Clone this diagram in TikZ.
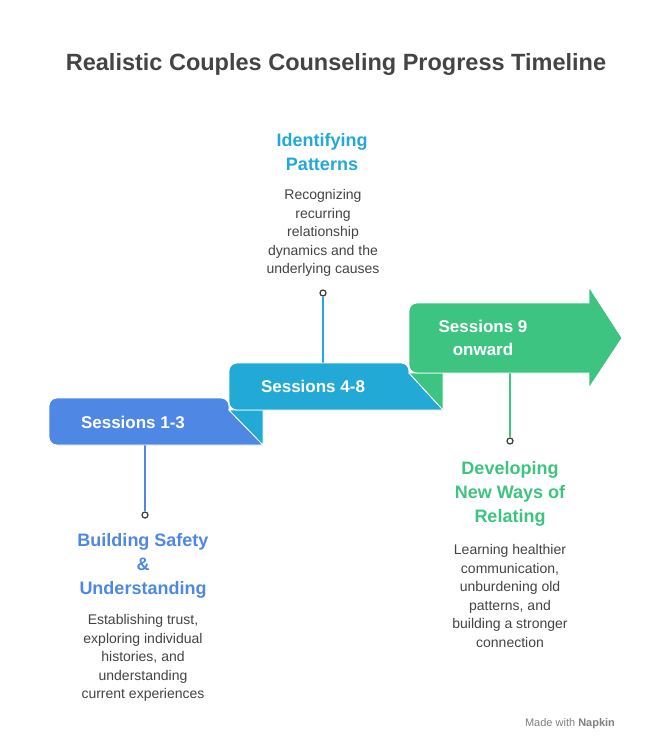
\documentclass[tikz,border=0pt]{standalone}
\usepackage{fontspec}
\setmainfont{Liberation Sans}
\definecolor{cblue}{HTML}{4E88E4}
\definecolor{cteal}{HTML}{22A9D6}
\definecolor{cgreen}{HTML}{3DC481}
\definecolor{ctext}{HTML}{444444}
\begin{document}
\begin{tikzpicture}[x=1pt,y=-1pt,
  hdr/.style={font=\fontsize{18}{24}\selectfont\bfseries,align=center},
  desc/.style={font=\fontsize{14}{18.5}\selectfont,text=ctext,align=center},
  lbl/.style={font=\fontsize{17}{23}\selectfont\bfseries,text=white,align=center},
  conn/.style={line width=1.3pt},
  dot/.style={circle,draw=ctext,line width=1.3pt,fill=white,inner sep=0pt,minimum size=6pt}]
\useasboundingbox (0,0) rectangle (648,752);
\fill[white] (0,0) rectangle (648,752);
\node[font=\fontsize{23.5}{27}\selectfont\bfseries,text=ctext] (title) at (336,64) {Realistic Couples Counseling Progress Timeline};
% connectors
\coordinate (b0) at (145,445); \node[dot] (b1) at (145,515) {};
\coordinate (t0) at (323,363); \node[dot] (t1) at (323,293) {};
\coordinate (g0) at (510,373); \node[dot] (g1) at (510,441) {};
\draw[conn,cblue] (b0) -- (b1);
\draw[conn,cteal] (t0) -- (t1);
\draw[conn,cgreen] (g0) -- (g1);
% shapes
\fill[cblue,draw=white,line width=0.8pt,rounded corners=8pt] (229,445) -- (49,445) -- (49,398) -- (229,398) [sharp corners] -- (229,410) -- (263,445) -- cycle;
\fill[cteal,draw=white,line width=0.8pt] (229,410) -- (263,410) -- (263,445) -- cycle;
\fill[cteal,draw=white,line width=0.8pt,rounded corners=8pt] (409,410) -- (229,410) -- (229,363) -- (409,363) [sharp corners] -- (409,373) -- (443,410) -- cycle;
\fill[cgreen,draw=white,line width=0.8pt] (409,373) -- (443,373) -- (443,410) -- cycle;
\fill[cgreen,draw=white,line width=0.8pt,rounded corners=8pt] (500,373) -- (409,373) -- (409,303) -- (500,303) [sharp corners] -- (589,303) -- (589,287) -- (622,338) -- (589,388) -- (589,373) -- cycle;
\node[lbl] (s1) at (133,422) {Sessions 1-3};
\node[lbl] (s2) at (313,386) {Sessions 4-8};
\node[lbl] (s3) at (483,338) {Sessions 9\\onward};
% texts
\node[hdr,text=cteal] (th) at (322,152) {Identifying\\Patterns};
\node[desc] (td) at (323,233) {Recognizing\\recurring\\relationship\\dynamics and the\\underlying causes};
\node[hdr,text=cblue] (bh) at (143,566) {Building Safety\\\&\\Understanding};
\node[desc] (bd) at (143,658) {Establishing trust,\\exploring individual\\histories, and\\understanding\\current experiences};
\node[hdr,text=cgreen] (gh) at (510,494) {Developing\\New Ways of\\Relating};
\node[desc] (gd) at (510,596) {Learning healthier\\communication,\\unburdening old\\patterns, and\\building a stronger\\connection};
\node[font=\fontsize{11}{13}\selectfont,text=gray] (wm) at (570,724) {Made with \textbf{Napkin}};
\end{tikzpicture}
\end{document}
